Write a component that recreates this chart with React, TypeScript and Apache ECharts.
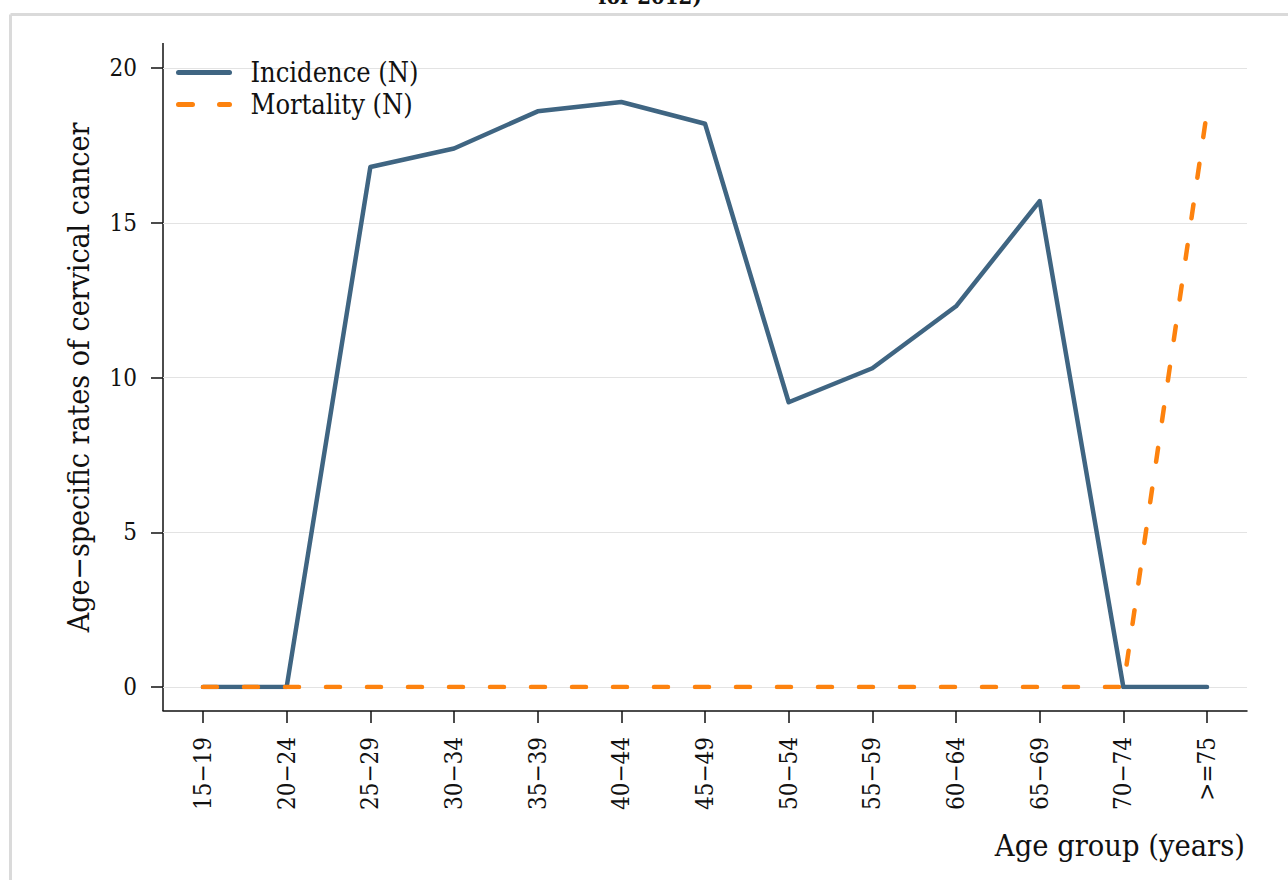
import React, { useEffect, useRef } from "react";
import * as echarts from "echarts";

const categories = ["15−19", "20−24", "25−29", "30−34", "35−39", "40−44", "45−49", "50−54", "55−59", "60−64", "65−69", "70−74", ">=75"];
const incidence = [0, 0, 16.8, 17.4, 18.6, 18.9, 18.2, 9.2, 10.3, 12.3, 15.7, 0, 0];
const mortality = [0, 0, 0, 0, 0, 0, 0, 0, 0, 0, 0, 0, 18.6];
const yTicks = [0, 5, 10, 15, 20];

const FONT = "'DejaVu Serif Condensed', 'DejaVu Serif', serif";

export default function App() {
  const ref = useRef<HTMLDivElement>(null);
  useEffect(() => {
    if (!ref.current) return;
    const chart = echarts.init(ref.current, null, { renderer: "svg" });
    const idx = categories.map((_, i) => i);
    chart.setOption({
      animation: false,
      backgroundColor: "#ffffff",
      textStyle: { fontFamily: FONT },
      grid: { left: 163, right: 41, top: 68, bottom: 193 },
      legend: {
        show: true,
        orient: "vertical",
        left: 171,
        top: 54,
        itemWidth: 51,
        itemHeight: 24,
        itemGap: 5,
        itemStyle: { opacity: 0 },
        lineStyle: { width: 5 },
        textStyle: { fontFamily: FONT, fontSize: 27, color: "#111", padding: [0, 0, 0, 16] },
        data: ["Incidence (N)", "Mortality (N)"],
      },
      xAxis: {
        type: "value",
        min: -0.478,
        max: 12.478,
        offset: 24,
        axisLine: { show: true, onZero: false, lineStyle: { color: "#111", width: 1.5 } },
        axisTick: { show: true, length: 12, customValues: idx, lineStyle: { color: "#111", width: 1.5 } },
        axisLabel: {
          customValues: idx,
          rotate: 90,
          margin: 26,
          fontSize: 24,
          color: "#111",
          fontFamily: FONT,
          formatter: (v: number) => categories[Math.round(v)] ?? "",
        },
        splitLine: { show: false },
      },
      yAxis: {
        type: "value",
        min: 0,
        max: 20,
        interval: 5,
        name: "Age−specific rates of cervical cancer",
        nameLocation: "middle",
        nameGap: 70,
        nameTextStyle: { fontSize: 30, color: "#111", fontFamily: FONT },
        axisLine: { show: false, onZero: false },
        axisTick: { show: true, length: 12, lineStyle: { color: "#111", width: 1.5 } },
        axisLabel: { margin: 26, fontSize: 24, color: "#111", fontFamily: FONT, customValues: yTicks },
        splitLine: { show: true, lineStyle: { color: "#e3e3e3", width: 1 } },
      },
      graphic: [
        { type: "line", shape: { x1: 10.5, y1: 14.5, x2: 1288, y2: 14.5 }, style: { stroke: "#dadada", lineWidth: 3 } },
        { type: "line", shape: { x1: 10.5, y1: 14.5, x2: 10.5, y2: 880 }, style: { stroke: "#dadada", lineWidth: 3 } },
        { type: "line", shape: { x1: 163, y1: 43, x2: 163, y2: 711 }, style: { stroke: "#111", lineWidth: 1.5 } },
        {
          type: "text",
          x: 650,
          y: 7,
          style: { text: "for 2012)", fontFamily: FONT, fontSize: 22, fontWeight: "bold", fill: "#111", textAlign: "center", textVerticalAlign: "bottom" },
        },
        {
          type: "text",
          x: 1245,
          y: 845,
          style: { text: "Age group (years)", fontFamily: FONT, fontSize: 30.5, fill: "#111", textAlign: "right", textVerticalAlign: "middle" },
        },
      ],
      series: [
        {
          name: "Incidence (N)",
          type: "line",
          data: incidence.map((v, i) => [i, v]),
          symbol: "none",
          lineStyle: { color: "#3f6582", width: 4.5, cap: "round", join: "round" },
          itemStyle: { color: "#3f6582" },
          z: 2,
        },
        {
          name: "Mortality (N)",
          type: "line",
          data: mortality.map((v, i) => [i, v]),
          symbol: "none",
          lineStyle: { color: "#fd820e", width: 4.5, type: [14, 27], cap: "round" },
          itemStyle: { color: "#fd820e" },
          z: 3,
        },
      ],
    });
    return () => chart.dispose();
  }, []);
  return (
    <div style={{ position: "fixed", left: 0, top: 0, width: 1288, height: 880, background: "#fff" }}>
      <div ref={ref} style={{ width: 1288, height: 880 }} />
    </div>
  );
}
